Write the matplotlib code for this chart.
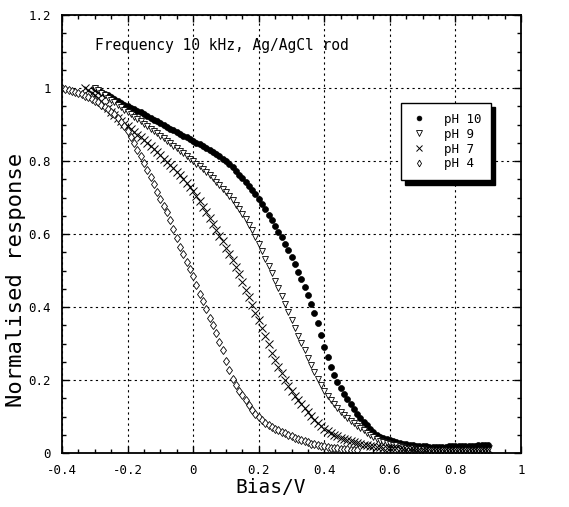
import numpy as np
import matplotlib
matplotlib.use("Agg")
import matplotlib.pyplot as plt
from matplotlib.ticker import MultipleLocator, FormatStrFormatter

# Bias sweep (V), 0.01 V steps
bias_ph10 = np.round(np.arange(-0.30, 0.905, 0.01), 2)
bias_ph9 = np.round(np.arange(-0.30, 0.905, 0.01), 2)
bias_ph7 = np.round(np.arange(-0.33, 0.905, 0.01), 2)
bias_ph4 = np.round(np.arange(-0.40, 0.505, 0.01), 2)

resp_ph10 = [
    1.000, 0.995, 0.990, 0.985, 0.980, 0.975, 0.970, 0.965, 0.960, 0.955,
    0.950, 0.946, 0.942, 0.938, 0.934, 0.929, 0.924, 0.919, 0.914, 0.909,
    0.904, 0.899, 0.894, 0.889, 0.884, 0.879, 0.874, 0.869, 0.865, 0.860,
    0.856, 0.851, 0.846, 0.841, 0.836, 0.831, 0.825, 0.819, 0.813, 0.807,
    0.800, 0.792, 0.783, 0.773, 0.763, 0.753, 0.743, 0.733, 0.722, 0.710,
    0.697, 0.683, 0.668, 0.653, 0.638, 0.623, 0.607, 0.591, 0.574, 0.557,
    0.538, 0.518, 0.497, 0.477, 0.455, 0.433, 0.408, 0.384, 0.355, 0.324,
    0.290, 0.262, 0.236, 0.213, 0.195, 0.179, 0.162, 0.147, 0.133, 0.120,
    0.107, 0.096, 0.086, 0.076, 0.066, 0.057, 0.050, 0.045, 0.041, 0.038,
    0.035, 0.032, 0.030, 0.028, 0.026, 0.024, 0.022, 0.021, 0.020, 0.019,
    0.018, 0.018, 0.017, 0.017, 0.017, 0.017, 0.017, 0.017, 0.018, 0.018,
    0.018, 0.019, 0.019, 0.019, 0.020, 0.020, 0.020, 0.021, 0.021, 0.022, 0.022,
]

resp_ph9 = [
    1.000, 0.994, 0.987, 0.981, 0.974, 0.967, 0.961, 0.954, 0.948, 0.941,
    0.935, 0.929, 0.922, 0.915, 0.909, 0.903, 0.896, 0.889, 0.883, 0.876,
    0.870, 0.863, 0.856, 0.849, 0.842, 0.835, 0.828, 0.821, 0.814, 0.807,
    0.800, 0.793, 0.786, 0.778, 0.770, 0.762, 0.753, 0.744, 0.735, 0.725,
    0.715, 0.704, 0.693, 0.681, 0.668, 0.655, 0.641, 0.626, 0.610, 0.592,
    0.573, 0.553, 0.533, 0.513, 0.493, 0.472, 0.451, 0.430, 0.409, 0.387,
    0.365, 0.343, 0.322, 0.301, 0.281, 0.261, 0.242, 0.222, 0.203, 0.186,
    0.171, 0.157, 0.144, 0.133, 0.122, 0.112, 0.103, 0.095, 0.088, 0.081,
    0.075, 0.069, 0.062, 0.056, 0.050, 0.044, 0.039, 0.034, 0.030, 0.027,
    0.025, 0.023, 0.021, 0.019, 0.017, 0.015, 0.014, 0.013, 0.012, 0.011,
    0.010, 0.010, 0.009, 0.009, 0.009, 0.009, 0.008, 0.008, 0.008, 0.008,
    0.008, 0.008, 0.008, 0.008, 0.008, 0.008, 0.008, 0.008, 0.008, 0.008, 0.008,
]

resp_ph7 = [
    1.000, 0.995, 0.988, 0.980, 0.972, 0.964, 0.955, 0.945, 0.935, 0.926,
    0.918, 0.910, 0.902, 0.895, 0.888, 0.881, 0.873, 0.865, 0.857, 0.849,
    0.841, 0.833, 0.825, 0.816, 0.807, 0.798, 0.789, 0.780, 0.771, 0.761,
    0.751, 0.740, 0.729, 0.717, 0.704, 0.690, 0.675, 0.660, 0.644, 0.628,
    0.612, 0.596, 0.580, 0.563, 0.546, 0.528, 0.509, 0.490, 0.469, 0.448,
    0.427, 0.406, 0.385, 0.364, 0.343, 0.322, 0.298, 0.275, 0.255, 0.236,
    0.218, 0.200, 0.184, 0.170, 0.157, 0.145, 0.134, 0.124, 0.113, 0.101,
    0.091, 0.082, 0.074, 0.067, 0.061, 0.055, 0.050, 0.046, 0.042, 0.038,
    0.035, 0.032, 0.029, 0.027, 0.025, 0.023, 0.021, 0.019, 0.018, 0.017,
    0.016, 0.015, 0.014, 0.014, 0.013, 0.013, 0.012, 0.012, 0.012, 0.012,
    0.011, 0.011, 0.011, 0.011, 0.011, 0.011, 0.011, 0.011, 0.011, 0.011,
    0.011, 0.011, 0.011, 0.012, 0.012, 0.012, 0.012, 0.012, 0.012, 0.012,
    0.012, 0.012, 0.012, 0.012,
]

resp_ph4 = [
    1.000, 0.998, 0.996, 0.993, 0.990, 0.986, 0.983, 0.979, 0.975, 0.971,
    0.966, 0.961, 0.955, 0.949, 0.943, 0.936, 0.928, 0.919, 0.908, 0.896,
    0.882, 0.866, 0.849, 0.831, 0.813, 0.795, 0.776, 0.756, 0.736, 0.716,
    0.697, 0.678, 0.660, 0.638, 0.614, 0.590, 0.566, 0.545, 0.524, 0.503,
    0.484, 0.460, 0.437, 0.418, 0.395, 0.370, 0.350, 0.330, 0.305, 0.281,
    0.252, 0.227, 0.204, 0.186, 0.171, 0.158, 0.144, 0.131, 0.119, 0.108,
    0.098, 0.090, 0.083, 0.077, 0.071, 0.066, 0.062, 0.058, 0.054, 0.050,
    0.046, 0.042, 0.038, 0.035, 0.032, 0.029, 0.026, 0.024, 0.022, 0.020,
    0.018, 0.017, 0.015, 0.014, 0.013, 0.012, 0.011, 0.010, 0.009, 0.008,
    0.007,
]

labels = ["pH 10", "pH 9", "pH 7", "pH 4"]
annotation = "Frequency 10 kHz, Ag/AgCl rod"

mono = "DejaVu Sans Mono"

fig = plt.figure(figsize=(5.69, 5.07), dpi=100)
ax = fig.add_axes([0.109, 0.1065, 0.8067, 0.8635])

ax.plot(bias_ph10, resp_ph10, linestyle="none", marker="o", ms=4.3,
        mfc="black", mec="black", mew=0.5, label=labels[0])
ax.plot(bias_ph9, resp_ph9, linestyle="none", marker="v", ms=5.0,
        mfc="white", mec="black", mew=0.6, label=labels[1])
ax.plot(bias_ph7, resp_ph7, linestyle="none", marker="x", ms=5.5,
        mec="black", mew=0.7, label=labels[2])
ax.plot(bias_ph4, resp_ph4, linestyle="none", marker="d", ms=4.3,
        mfc="white", mec="black", mew=0.6, label=labels[3])

ax.set_xlim(-0.4, 1.0)
ax.set_ylim(0, 1.2)
ax.xaxis.set_major_locator(MultipleLocator(0.2))
ax.yaxis.set_major_locator(MultipleLocator(0.2))
ax.xaxis.set_minor_locator(MultipleLocator(0.05))
ax.yaxis.set_minor_locator(MultipleLocator(0.05))
ax.xaxis.set_major_formatter(FormatStrFormatter("%g"))
ax.yaxis.set_major_formatter(FormatStrFormatter("%g"))

ax.tick_params(which="both", direction="in", top=True, right=True,
               colors="black", width=1.0)
ax.tick_params(which="major", length=5, labelsize=9, pad=8)
ax.tick_params(which="minor", length=3)
for lab in ax.get_xticklabels() + ax.get_yticklabels():
    lab.set_family(mono)

for sp in ax.spines.values():
    sp.set_linewidth(1.3)
    sp.set_color("black")

ax.grid(True, which="major", color="black", linestyle=(0, (2, 3)),
        linewidth=0.8)
ax.set_axisbelow(True)

ax.set_xlabel("Bias/V", family=mono, fontsize=14, va="center")
ax.xaxis.set_label_coords(0.455, -0.079)
ax.set_ylabel("Normalised response", family=mono, fontsize=16, va="center")
ax.yaxis.set_label_coords(-0.100, 0.395)

ax.text(-0.3, 1.118, annotation, family=mono, fontsize=10.5,
        ha="left", va="center")

leg = ax.legend(loc="upper right", bbox_to_anchor=(0.935, 0.80),
                borderaxespad=0, frameon=True, fancybox=False,
                shadow={"ox": 3, "oy": -3, "facecolor": "black",
                        "edgecolor": "black", "alpha": 1},
                edgecolor="black", framealpha=1,
                prop={"family": mono, "size": 9},
                handlelength=1.2, handletextpad=1.4, labelspacing=0.15,
                borderpad=0.8, markerscale=0.8)
leg.get_frame().set_linewidth(1.0)

fig.savefig("out.png", dpi=100)
